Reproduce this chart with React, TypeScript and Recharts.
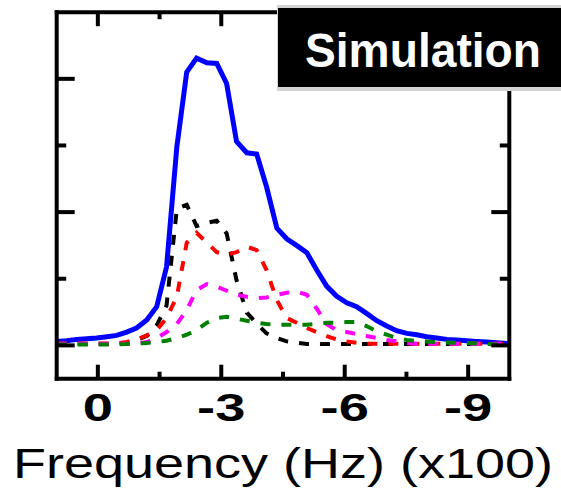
import React from 'react';
import { LineChart, Line, XAxis, YAxis } from 'recharts';

const FONT = '"Liberation Sans", Arial, Helvetica, sans-serif';

const freq = [1.0, 0.76, 0.51, 0.27, 0.03, -0.22, -0.46, -0.7, -0.94, -1.19, -1.43, -1.67, -1.92, -2.16, -2.4, -2.65, -2.89, -3.13, -3.37, -3.62, -3.86, -4.1, -4.35, -4.59, -4.83, -5.08, -5.32, -5.56, -5.8, -6.05, -6.29, -6.53, -6.78, -7.02, -7.26, -7.51, -7.75, -7.99, -8.23, -8.48, -8.72, -8.96, -9.21, -9.45, -9.69, -9.94, -10.18];

const blue = [0.06, 0.07, 0.09, 0.1, 0.11, 0.13, 0.15, 0.2, 0.26, 0.38, 0.58, 1.18, 2.98, 4.1, 4.31, 4.24, 4.23, 3.93, 3.06, 2.89, 2.87, 2.38, 1.76, 1.6, 1.5, 1.39, 1.13, 0.89, 0.74, 0.64, 0.58, 0.48, 0.37, 0.29, 0.22, 0.18, 0.16, 0.13, 0.11, 0.09, 0.08, 0.07, 0.06, 0.05, 0.04, 0.03, 0.03];
const black = [0.02, 0.02, 0.02, 0.02, 0.02, 0.02, 0.03, 0.04, 0.08, 0.14, 0.3, 0.6, 2.05, 2.11, 1.79, 1.84, 1.87, 1.68, 0.98, 0.49, 0.33, 0.18, 0.11, 0.06, 0.04, 0.02, 0.02, 0.02, 0.02, 0.02, 0.02, 0.02, 0.02, 0.02, 0.02, 0.02, 0.02, 0.02, 0.02, 0.02, 0.02, 0.02, 0.02, 0.02, 0.02, 0.02, 0.02];
const red = [0.03, 0.03, 0.03, 0.03, 0.03, 0.03, 0.03, 0.05, 0.09, 0.15, 0.23, 0.41, 0.73, 1.54, 1.69, 1.54, 1.4, 1.36, 1.4, 1.48, 1.43, 1.13, 0.68, 0.41, 0.34, 0.26, 0.2, 0.14, 0.09, 0.06, 0.04, 0.025, 0.025, 0.025, 0.025, 0.025, 0.025, 0.025, 0.025, 0.025, 0.025, 0.025, 0.025, 0.025, 0.025, 0.025, 0.025];
const magenta = [0.025, 0.025, 0.025, 0.025, 0.025, 0.025, 0.025, 0.025, 0.025, 0.05, 0.11, 0.2, 0.32, 0.53, 0.83, 0.92, 0.88, 0.82, 0.76, 0.73, 0.71, 0.72, 0.76, 0.79, 0.81, 0.76, 0.55, 0.32, 0.23, 0.2, 0.17, 0.14, 0.11, 0.08, 0.06, 0.036, 0.025, 0.025, 0.025, 0.025, 0.025, 0.025, 0.025, 0.025, 0.025, 0.025, 0.025];
const green = [0.015, 0.015, 0.015, 0.015, 0.015, 0.015, 0.015, 0.02, 0.03, 0.036, 0.05, 0.07, 0.11, 0.16, 0.23, 0.34, 0.41, 0.43, 0.4, 0.37, 0.34, 0.32, 0.31, 0.31, 0.31, 0.31, 0.32, 0.34, 0.34, 0.35, 0.35, 0.29, 0.21, 0.16, 0.11, 0.08, 0.066, 0.06, 0.05, 0.044, 0.04, 0.036, 0.03, 0.02, 0.015, 0.006, 0.006];

const xTicks = [0, -1.5, -3, -4.5, -6, -7.5, -9];
const xMajorLabels: Record<string, string> = { '0': '0', '-3': '-3', '-6': '-6', '-9': '-9' };
const yTicks = [0, 1, 2, 3, 4];
const yMajor = [0, 2, 4];

const xLabel = 'Frequency (Hz) (x100)';
const boxTitle = 'Simulation';

const data = freq.map((f, i) => ({
  f,
  blue: blue[i],
  black: black[i],
  red: red[i],
  magenta: magenta[i],
  green: green[i],
}));

const axisStyle = { stroke: '#000', strokeWidth: 4, strokeLinecap: 'square' as const };

const isMajorX = (v: number) => Math.abs(v % 3) < 1e-9;
const labelFor = (v: number) => xMajorLabels[String(v === 0 ? 0 : v)] ?? '';

const BottomTick = (props: any) => {
  const { x, y, payload } = props;
  const v = payload.value;
  const major = isMajorX(v);
  const len = major ? 14 : 7;
  return (
    <g>
      <line x1={x} y1={y} x2={x} y2={y - len} stroke="#000" strokeWidth={4} />
      {major && (
        <text
          transform={`translate(${x},${y + 42}) scale(1.43,1)`}
          textAnchor="middle"
          fontFamily={FONT}
          fontWeight="bold"
          fontSize={38}
          fill="#000"
        >
          {labelFor(v)}
        </text>
      )}
    </g>
  );
};

const TopTick = (props: any) => {
  const { x, y, payload } = props;
  const len = isMajorX(payload.value) ? 14 : 7;
  return <line x1={x} y1={y} x2={x} y2={y + len} stroke="#000" strokeWidth={4} />;
};

const LeftTick = (props: any) => {
  const { x, y, payload } = props;
  const len = yMajor.includes(payload.value) ? 18 : 9.5;
  return <line x1={x} y1={y} x2={x + len} y2={y} stroke="#000" strokeWidth={4} />;
};

const RightTick = (props: any) => {
  const { x, y, payload } = props;
  const len = yMajor.includes(payload.value) ? 18 : 9.5;
  return <line x1={x} y1={y} x2={x - len} y2={y} stroke="#000" strokeWidth={4} />;
};

const AxisTitle = (props: any) => {
  const vb = props.viewBox || {};
  const cx = (vb.x ?? 0) + (vb.width ?? 0) / 2;
  const y = (vb.y ?? 0) + 99.5;
  return (
    <text
      x={cx}
      y={y}
      textAnchor="middle"
      fontFamily={FONT}
      fontSize={42}
      fill="#000"
      textLength={540}
      lengthAdjust="spacingAndGlyphs"
    >
      {xLabel}
    </text>
  );
};

const dash = '10 11';

export default function App() {
  return (
    <div style={{ position: 'absolute', left: 0, top: 0, width: 561, height: 488, background: '#fff' }}>
      <LineChart
        width={561}
        height={488}
        data={data}
        margin={{ top: 11.2, right: 50.7, bottom: 108.3, left: 55.7 }}
      >
        <XAxis
          xAxisId="b"
          dataKey="f"
          type="number"
          domain={[-10, 1]}
          reversed
          allowDataOverflow
          ticks={xTicks}
          interval={0}
          height={1}
          tickSize={0}
          tickMargin={0}
          tickLine={false}
          tick={BottomTick}
          axisLine={axisStyle}
          label={{ content: AxisTitle }}
        />
        <XAxis
          xAxisId="t"
          orientation="top"
          dataKey="f"
          type="number"
          domain={[-10, 1]}
          reversed
          allowDataOverflow
          ticks={xTicks}
          interval={0}
          height={1}
          tickSize={0}
          tickMargin={0}
          tickLine={false}
          tick={TopTick}
          axisLine={axisStyle}
        />
        <YAxis
          yAxisId="l"
          type="number"
          domain={[-0.5, 5]}
          allowDataOverflow
          ticks={yTicks}
          interval={0}
          width={1}
          tickSize={0}
          tickMargin={0}
          tickLine={false}
          tick={LeftTick}
          axisLine={axisStyle}
        />
        <YAxis
          yAxisId="r"
          orientation="right"
          type="number"
          domain={[-0.5, 5]}
          allowDataOverflow
          ticks={yTicks}
          interval={0}
          width={1}
          tickSize={0}
          tickMargin={0}
          tickLine={false}
          tick={RightTick}
          axisLine={axisStyle}
        />
        <Line xAxisId="b" yAxisId="l" type="linear" dataKey="blue" stroke="#0000ff" strokeWidth={5} dot={false} isAnimationActive={false} />
        <Line xAxisId="b" yAxisId="l" type="linear" dataKey="black" stroke="#000000" strokeWidth={4} strokeDasharray={dash} dot={false} isAnimationActive={false} />
        <Line xAxisId="b" yAxisId="l" type="linear" dataKey="red" stroke="#ff0000" strokeWidth={4} strokeDasharray={dash} dot={false} isAnimationActive={false} />
        <Line xAxisId="b" yAxisId="l" type="linear" dataKey="magenta" stroke="#ff00ff" strokeWidth={4} strokeDasharray={dash} dot={false} isAnimationActive={false} />
        <Line xAxisId="b" yAxisId="l" type="linear" dataKey="green" stroke="#008000" strokeWidth={4} strokeDasharray={dash} dot={false} isAnimationActive={false} />
      </LineChart>
      <svg
        width={561}
        height={488}
        style={{ position: 'absolute', left: 0, top: 0, pointerEvents: 'none' }}
      >
        <rect x={277} y={5} width={284} height={86} fill="#d4d4d4" />
        <rect x={278} y={8} width={283} height={79} fill="#000" />
        <text
          x={305}
          y={66.5}
          fontFamily={FONT}
          fontWeight="bold"
          fontSize={48}
          fill="#fff"
          textLength={236}
          lengthAdjust="spacingAndGlyphs"
        >
          {boxTitle}
        </text>
      </svg>
    </div>
  );
}
